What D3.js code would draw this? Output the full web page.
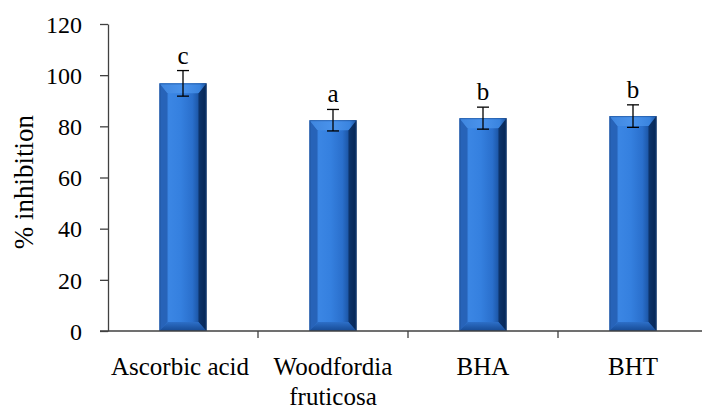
<!DOCTYPE html>
<html><head><meta charset="utf-8">
<script src="https://cdn.jsdelivr.net/npm/d3@7"></script>
<style>body{margin:0;background:#fff}svg{display:block}
text{font-family:"Liberation Serif","Times New Roman",Times,"DejaVu Serif",serif}</style>
</head><body>
<script>
const categories = [["Ascorbic acid"], ["Woodfordia", "fruticosa"], ["BHA"], ["BHT"]];
const values = [96.8, 82.4, 83.2, 84.0];
const errors = [5.0, 4.2, 4.3, 4.4];
const letters = ["c", "a", "b", "b"];
const yTicks = [0, 20, 40, 60, 80, 100, 120];
const yLabel = "% inhibition";

const W = 702, H = 409;
const svg = d3.select("body").append("svg").attr("width", W).attr("height", H);

const y = d3.scaleLinear().domain([0, 120]).range([331, 24]);
const x = d3.scaleBand().domain(d3.range(categories.length)).range([108, 708]).padding(0);
const barW = 47;

const defs = svg.append("defs");
const g1 = defs.append("linearGradient").attr("id", "face").attr("x1", 0).attr("x2", 1).attr("y1", 0).attr("y2", 0);
[[0, "#2a6ac4"], [0.2, "#3b86e4"], [0.45, "#3580df"], [0.7, "#2a6fcc"], [0.85, "#1a52a0"], [0.95, "#0b3368"], [1, "#061f45"]]
  .forEach(([o, c]) => g1.append("stop").attr("offset", o).attr("stop-color", c));
const gTop = defs.append("linearGradient").attr("id", "topb").attr("x1", 0).attr("x2", 1).attr("y1", 0).attr("y2", 0);
[[0, "#3f86de"], [0.5, "#4a93ec"], [0.85, "#3a84df"], [1, "#1d55a2"]]
  .forEach(([o, c]) => gTop.append("stop").attr("offset", o).attr("stop-color", c));
const gBot = defs.append("linearGradient").attr("id", "botb").attr("x1", 0).attr("x2", 0).attr("y1", 0).attr("y2", 1);
[[0, "#2d6fc8"], [1, "#164a94"]]
  .forEach(([o, c]) => gBot.append("stop").attr("offset", o).attr("stop-color", c));

const bars = svg.append("g");
values.forEach((v, i) => {
  const cx = x(i) + x.bandwidth() / 2;
  const x0 = cx - barW / 2, x1 = cx + barW / 2;
  const y0 = y(v), y1 = y(0);
  const bx = 8, by = 10, bb = 9;
  const g = bars.append("g");
  g.append("rect").attr("x", x0).attr("y", y0).attr("width", barW).attr("height", y1 - y0).attr("fill", "url(#face)");
  g.append("polygon").attr("points", [[x0, y0], [x0 + bx, y0 + by], [x0 + bx, y1 - bb], [x0, y1]].join(" ")).attr("fill", "#2763b8");
  g.append("polygon").attr("points", [[x1, y0], [x1 - bx, y0 + by], [x1 - bx, y1 - bb], [x1, y1]].join(" ")).attr("fill", "#082857").attr("opacity", 0.75);
  g.append("polygon").attr("points", [[x0, y0], [x1, y0], [x1 - bx, y0 + by], [x0 + bx, y0 + by]].join(" ")).attr("fill", "url(#topb)");
  g.append("polygon").attr("points", [[x0, y1], [x1, y1], [x1 - bx, y1 - bb], [x0 + bx, y1 - bb]].join(" ")).attr("fill", "url(#botb)");
  g.append("rect").attr("x", x0 + 0.5).attr("y", y0 + 0.5).attr("width", barW - 1).attr("height", y1 - y0 - 1)
    .attr("fill", "none").attr("stroke", "#1a4c92").attr("stroke-width", 1).attr("opacity", 0.6);
});

const eg = svg.append("g").attr("stroke", "#000").attr("stroke-width", 1.3);
values.forEach((v, i) => {
  const cx = x(i) + x.bandwidth() / 2;
  eg.append("line").attr("x1", cx).attr("x2", cx).attr("y1", y(v + errors[i])).attr("y2", y(v - errors[i]));
  eg.append("line").attr("x1", cx - 6).attr("x2", cx + 6).attr("y1", y(v + errors[i])).attr("y2", y(v + errors[i]));
  eg.append("line").attr("x1", cx - 6).attr("x2", cx + 6).attr("y1", y(v - errors[i])).attr("y2", y(v - errors[i]));
});

values.forEach((v, i) => {
  const cx = x(i) + x.bandwidth() / 2;
  svg.append("text").attr("x", cx).attr("y", y(v + errors[i]) - 7).attr("text-anchor", "middle")
    .attr("font-size", 25).attr("fill", "#000").text(letters[i]);
});

const ya = svg.append("g").attr("transform", "translate(108,0)")
  .call(d3.axisLeft(y).tickValues(yTicks).tickSize(8).tickSizeOuter(0).tickPadding(18));
ya.attr("font-family", null);
ya.select(".domain").attr("stroke", "#404040").attr("stroke-width", 1.3);
ya.selectAll(".tick line").attr("stroke", "#404040").attr("stroke-width", 1.3);
ya.selectAll(".tick text").attr("font-size", 24).attr("fill", "#000").attr("dy", "0.34em");

svg.append("line").attr("x1", 100).attr("x2", 702).attr("y1", y(0)).attr("y2", y(0)).attr("stroke", "#404040").attr("stroke-width", 1.3);
d3.range(1, categories.length).forEach(i => {
  svg.append("line").attr("x1", x(i)).attr("x2", x(i)).attr("y1", y(0)).attr("y2", y(0) + 7).attr("stroke", "#404040").attr("stroke-width", 1.3);
});
categories.forEach((lines, i) => {
  const cx = x(i) + x.bandwidth() / 2;
  const t = svg.append("text").attr("text-anchor", "middle").attr("font-size", 25).attr("fill", "#000");
  lines.forEach((l, k) => t.append("tspan").attr("x", cx - (i === 0 ? 3 : 0)).attr("y", 375 + k * 30).text(l));
});

svg.append("text").attr("transform", "translate(33,182) rotate(-90)").attr("text-anchor", "middle")
  .attr("font-size", 27).attr("fill", "#000").text(yLabel);
</script>
</body></html>
